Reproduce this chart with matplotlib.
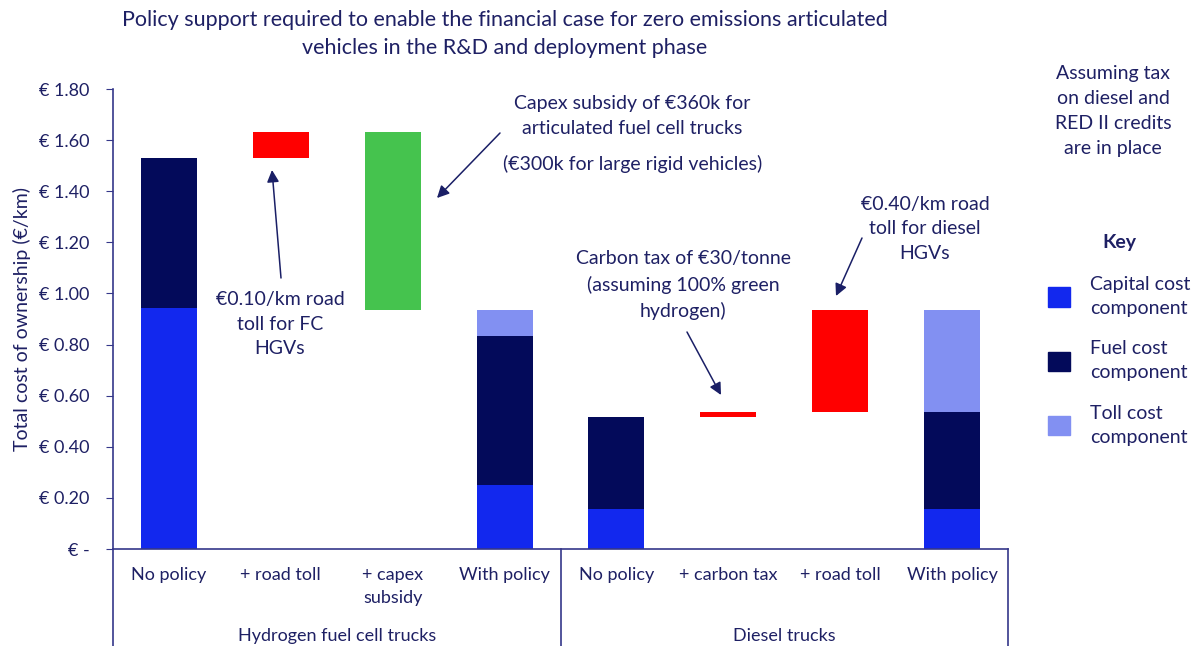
import matplotlib.pyplot as plt
from matplotlib.lines import Line2D
from matplotlib.patches import Patch

W, H = 1201, 646

categories = ["No policy", "+ road toll", "+ capex\nsubsidy", "With policy",
              "No policy", "+ carbon tax", "+ road toll", "With policy"]
groups = ["Hydrogen fuel cell trucks", "Diesel trucks"]

capital = [0.945, 0, 0, 0.25, 0.155, 0, 0, 0.155]
fuel = [0.585, 0, 0, 0.585, 0.36, 0, 0, 0.38]
toll = [0, 0, 0, 0.10, 0, 0, 0, 0.40]

# floating "policy" steps
step_idx = [1, 2, 5, 6]
step_base = [1.53, 0.935, 0.515, 0.535]
step_size = [0.10, 0.695, 0.02, 0.40]
step_colors = ["#FF0000", "#45C34E", "#FF0000", "#FF0000"]

yticks = [0, 0.2, 0.4, 0.6, 0.8, 1.0, 1.2, 1.4, 1.6, 1.8]

C_CAP = "#1228EE"
C_FUEL = "#030A5A"
C_TOLL = "#8290F2"
TXT = "#1E2064"
AXC = "#35378A"

plt.rcParams["font.family"] = ["Lato", "DejaVu Sans"]


def fx(px):
    return px / W


def fy(py):
    return 1 - py / H


fig = plt.figure(figsize=(12.01, 6.46), dpi=100)
ax = fig.add_axes([fx(113), fy(549), (1008 - 113) / W, (549 - 89) / H])

x = list(range(len(categories)))
bw = 0.5
ax.bar(x, capital, bw, color=C_CAP)
ax.bar(x, fuel, bw, bottom=capital, color=C_FUEL)
ax.bar(x, toll, bw, bottom=[c + f for c, f in zip(capital, fuel)], color=C_TOLL)
ax.bar(step_idx, step_size, bw, bottom=step_base, color=step_colors)

ax.set_xlim(-0.5, len(categories) - 0.5)
ax.set_ylim(0, 1.8)
ax.set_yticks(yticks)
ax.set_yticklabels(["€ -" if v == 0 else f"€ {v:.2f}" for v in yticks])
ax.set_xticks(x)
ax.set_xticklabels(categories, va="top", linespacing=1.55)
ax.tick_params(axis="x", length=0, pad=13, labelsize=13, labelcolor=TXT)
ax.tick_params(axis="y", direction="out", length=5, color=AXC, pad=12,
               labelsize=13, labelcolor=TXT)
for s in ["top", "right"]:
    ax.spines[s].set_visible(False)
for s in ["left", "bottom"]:
    ax.spines[s].set_color(AXC)
    ax.spines[s].set_linewidth(1.2)

ax.set_ylabel("Total cost of ownership (€/km)", fontsize=14, color=TXT, labelpad=6)

# category group separators
for px in [113, 561, 1008]:
    fig.add_artist(Line2D([fx(px), fx(px)], [fy(549), 0], color=AXC, lw=1.2))
fig.text(fx(337), fy(636), groups[0], ha="center", va="center", fontsize=13, color=TXT)
fig.text(fx(784), fy(636), groups[1], ha="center", va="center", fontsize=13, color=TXT)

# title
fig.text(fx(505), fy(34), "Policy support required to enable the financial case for zero emissions articulated\n"
         "vehicles in the R&D and deployment phase",
         ha="center", va="center", fontsize=15.5, color=TXT, linespacing=1.5)

# annotations
fig.text(fx(632), fy(116), "Capex subsidy of €360k for\narticulated fuel cell trucks",
         ha="center", va="center", fontsize=14, color=TXT, linespacing=1.5)
fig.text(fx(633), fy(164), "(€300k for large rigid vehicles)",
         ha="center", va="center", fontsize=14, color=TXT)
fig.text(fx(280), fy(324), "€0.10/km road\ntoll for FC\nHGVs",
         ha="center", va="center", fontsize=14, color=TXT, linespacing=1.55)
fig.text(fx(683), fy(285), "Carbon tax of €30/tonne\n(assuming 100% green\nhydrogen)",
         ha="center", va="center", fontsize=14, color=TXT, linespacing=1.55)
fig.text(fx(925), fy(229), "€0.40/km road\ntoll for diesel\nHGVs",
         ha="center", va="center", fontsize=14, color=TXT, linespacing=1.55)
fig.text(fx(1113), fy(111), "Assuming tax\non diesel and\nRED II credits\nare in place",
         ha="center", va="center", fontsize=14, color=TXT, linespacing=1.55)

arrows = [((500, 133), (437, 198)),
          ((281, 278), (272, 170)),
          ((687, 332), (721, 395)),
          ((862, 238), (836, 296))]
for (sx, sy), (ex, ey) in arrows:
    fig.add_artist(plt.Annotation("", xy=(fx(ex), fy(ey)), xytext=(fx(sx), fy(sy)),
                                  xycoords="figure fraction", textcoords="figure fraction",
                                  arrowprops=dict(arrowstyle="-|>", color="#1A1F66",
                                                  lw=1.1, mutation_scale=18,
                                                  shrinkA=0, shrinkB=0)))

# key
handles = [Patch(color=C_CAP), Patch(color=C_FUEL), Patch(color=C_TOLL)]
labels = ["Capital cost\ncomponent", "Fuel cost\ncomponent", "Toll cost\ncomponent"]
leg = fig.legend(handles, labels, loc="upper left", bbox_to_anchor=(fx(1048), fy(234)),
                 frameon=False, fontsize=14, title="Key", handlelength=1.15,
                 handleheight=1.15, labelspacing=1.2, handletextpad=1.0,
                 borderaxespad=0, borderpad=0)
leg.get_title().set_fontweight("bold")
leg.get_title().set_fontsize(14)
leg.get_title().set_color(TXT)
for t in leg.get_texts():
    t.set_color(TXT)
    t.set_linespacing(1.5)
leg._legend_box.sep = 18

fig.savefig("out.png", dpi=100)
